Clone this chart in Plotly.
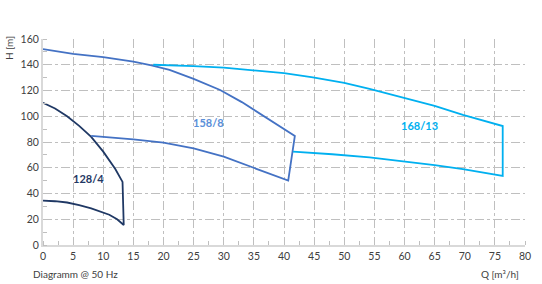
import plotly.graph_objects as go

# 128/4 envelope: top curve -> vertical -> bottom curve
q_128 = [0, 2, 4, 6, 8, 10, 12, 13.2, 13.4, 12.3, 11, 9.5, 8, 6, 4, 2, 0]
h_128 = [110.5, 106, 100, 92.5, 84, 72.5, 59, 49, 15.5, 20, 23.5, 26, 28.5, 31, 33, 34, 34.5]

# 158/8 envelope
q_158 = [0, 5, 10, 15, 18, 21, 25, 29.4, 33, 37, 41.8, 40.7, 35, 30, 25, 22.7, 20, 15, 8]
h_158 = [152.2, 148.5, 146, 142.4, 139.5, 136, 129, 120.4, 111, 99, 84.7, 50, 60, 68.6, 75, 77.1, 79.5, 82.1, 84.7]

# 168/13 envelope
q_168 = [18.3, 21, 25, 30, 35, 40, 44.8, 50, 54.2, 59.8, 65, 69.7, 73, 76.3, 76.3, 69.7, 65, 60, 54.2, 48, 41.5]
h_168 = [140, 139.8, 139, 137.8, 135.9, 133.5, 130.2, 126, 121.2, 114.4, 108, 101, 96.5, 92.4, 53.6, 58.9, 62, 64.7, 68.1, 70.5, 72.5]

labels = ["128/4", "158/8", "168/13"]
label_q = [7.6, 27.5, 62.5]
label_h = [52, 95, 93]

x_ticks = list(range(0, 81, 5))
y_ticks = list(range(0, 161, 20))

colors = ["#1F3864", "#4472C4", "#00B0F0"]
label_colors = ["#1F3864", "#5B8FD9", "#00B0F0"]

L, T, W, H = 43, 39, 482, 206  # plot area in pixels


def dom(px, py):
    return (px - L) / W, 1 - (py - T) / H


fig = go.Figure()
for q, h, c in zip([q_128, q_158, q_168], [h_128, h_158, h_168], colors):
    fig.add_trace(go.Scatter(x=q, y=h, mode="lines", line=dict(color=c, width=1.8),
                             showlegend=False, hoverinfo="skip"))

for t, xq, yh, c in zip(labels, label_q, label_h, label_colors):
    fig.add_annotation(x=xq, y=yh, xref="x", yref="y", text="<b>%s</b>" % t,
                       showarrow=False, font=dict(size=11, color=c, family="Lato"))

tf = dict(size=10, color="#404040", family="Lato")
for text, px, py, ang in [("H [m]", 9, 48, -90), ("Diagramm @ 50 Hz", 75, 274, 0),
                          ("Q [m³/h]", 500, 274, 0)]:
    dx, dy = dom(px, py)
    fig.add_annotation(xref="x domain", yref="y domain", x=dx, y=dy, text=text,
                       textangle=ang, showarrow=False, xanchor="center", yanchor="middle",
                       font=tf)

grid = dict(showgrid=True, gridcolor="#BFBFBF", griddash="dashdot", gridwidth=1,
            zeroline=False, showline=True, linecolor="#D9D9D9", linewidth=2,
            tickfont=dict(size=10.5, color="#404040", family="Lato"), ticks="")
fig.update_xaxes(range=[0, 80], tickvals=x_ticks, **grid,
                 minor=dict(dtick=2.5, ticks="inside", ticklen=4, tickcolor="#BFBFBF", showgrid=False))
fig.update_yaxes(range=[0, 160], tickvals=y_ticks, **grid,
                 minor=dict(dtick=10, ticks="inside", ticklen=4, tickcolor="#BFBFBF", showgrid=False))

fig.update_layout(width=542, height=284, margin=dict(l=L, r=542 - L - W, t=T, b=284 - T - H),
                  plot_bgcolor="white", paper_bgcolor="white")
fig.write_html("out.html")
